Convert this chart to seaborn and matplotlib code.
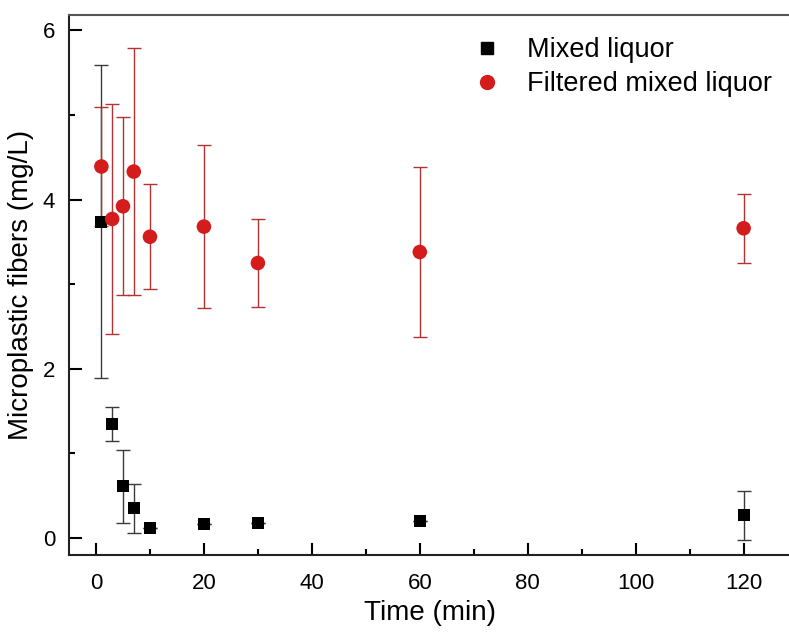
import numpy as np
import pandas as pd
import seaborn as sns
import matplotlib.pyplot as plt
from matplotlib.ticker import MultipleLocator

# time points (min)
time = [1, 3, 5, 7, 10, 20, 30, 60, 120]

# mixed liquor
mixed = [3.74, 1.35, 0.61, 0.35, 0.12, 0.17, 0.18, 0.20, 0.27]
mixed_err = [1.85, 0.20, 0.43, 0.29, 0.0, 0.0, 0.0, 0.0, 0.29]

# filtered mixed liquor
filtered = [4.39, 3.77, 3.92, 4.33, 3.56, 3.68, 3.25, 3.38, 3.66]
filtered_err = [0.70, 1.36, 1.05, 1.46, 0.62, 0.96, 0.52, 1.01, 0.41]


def plot_fibers():
    df = pd.DataFrame({
        'time': time * 2,
        'value': mixed + filtered,
        'err': mixed_err + filtered_err,
        'sample': ['Mixed liquor'] * len(time) + ['Filtered mixed liquor'] * len(time),
    })

    sns.set_theme(style="ticks")
    plt.rcParams['font.family'] = ['Liberation Sans', 'DejaVu Sans']
    plt.rcParams['text.color'] = 'black'
    plt.rcParams['axes.labelcolor'] = 'black'

    fig = plt.figure(figsize=(7.89, 6.32), dpi=100)
    ax = fig.add_axes([69 / 789, 77 / 632, 1.0 - 69 / 789 + 0.002, (555 - 15) / 632])

    # error bars first, markers on top
    m = df[df['sample'] == 'Mixed liquor']
    f = df[df['sample'] == 'Filtered mixed liquor']
    ax.errorbar(m['time'], m['value'], yerr=m['err'], fmt='none', ecolor='#3a3a3a',
                elinewidth=1.0, capsize=5, capthick=1.0, zorder=2)
    ax.errorbar(f['time'], f['value'], yerr=f['err'], fmt='none', ecolor='#b03434',
                elinewidth=1.0, capsize=5, capthick=1.0, zorder=2)

    sns.scatterplot(data=df, x='time', y='value', hue='sample', style='sample',
                    markers={'Mixed liquor': 's', 'Filtered mixed liquor': 'o'},
                    palette={'Mixed liquor': 'black', 'Filtered mixed liquor': '#d41c1c'},
                    s=100, linewidth=0, ax=ax, zorder=3, legend=False)
    # square is a bit smaller than circle in the reference
    ax.collections[-1].set_sizes([75 if mk == 'Mixed liquor' else 110 for mk in df['sample']])

    ax.set_xlim(-5, 128.7)
    ax.set_ylim(-0.2, 6.18)
    ax.xaxis.set_major_locator(MultipleLocator(20))
    ax.xaxis.set_minor_locator(MultipleLocator(10))
    ax.yaxis.set_major_locator(MultipleLocator(2))
    ax.yaxis.set_minor_locator(MultipleLocator(1))
    ax.tick_params(which='both', direction='in', width=1.5, labelsize=16, colors='black')
    ax.tick_params(axis='x', which='major', length=9, pad=13)
    ax.tick_params(axis='y', which='major', length=9, pad=10)
    ax.tick_params(which='minor', length=4.5)

    for side in ['left', 'bottom']:
        ax.spines[side].set_linewidth(1.5)
        ax.spines[side].set_color('#222222')
    ax.spines['top'].set_linewidth(1.5)
    ax.spines['top'].set_color('#555555')
    ax.spines['right'].set_visible(False)

    ax.set_xlabel('Time (min)', fontsize=20, labelpad=4)
    ax.set_ylabel('Microplastic fibers (mg/L)', fontsize=20, labelpad=6)

    handles = [
        plt.Line2D([], [], marker='s', color='black', ls='none', markersize=8),
        plt.Line2D([], [], marker='o', color='#d41c1c', ls='none', markersize=10),
    ]
    fig.legend(handles, ['Mixed liquor', 'Filtered mixed liquor'], loc='upper left',
               bbox_to_anchor=(473 / 789, 1 - 37 / 632), frameon=False, fontsize=19.5,
               handletextpad=1.0, labelspacing=0.3, handlelength=1.0,
               borderpad=0, borderaxespad=0)

    fig.savefig('out.png', dpi=100)


if __name__ == '__main__':
    plot_fibers()
